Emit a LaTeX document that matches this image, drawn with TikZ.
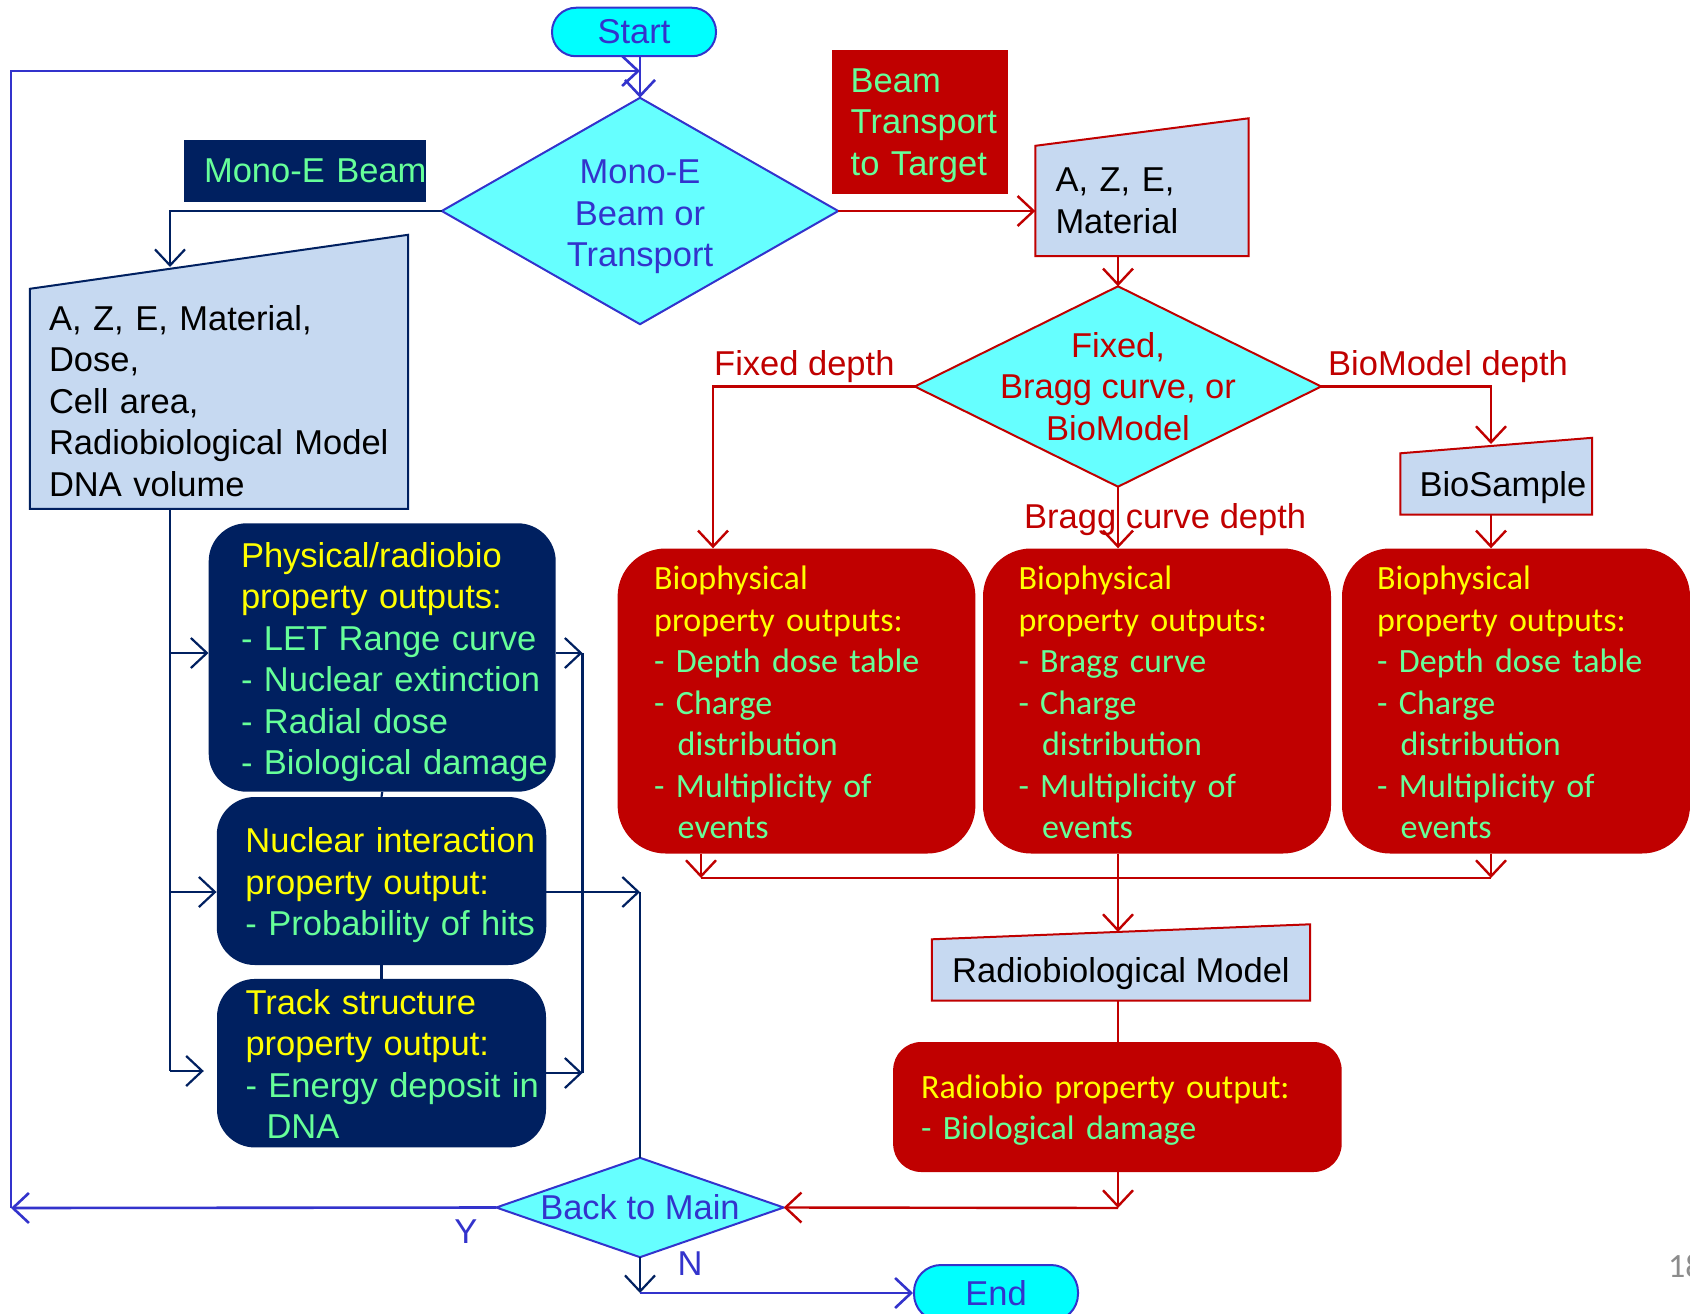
\documentclass[tikz,border=0pt]{standalone}
\usepackage{fontspec}
\setmainfont{Liberation Sans}
\newfontfamily\calfont{Carlito}
\usetikzlibrary{arrows.meta,backgrounds,calc}
\definecolor{cNavy}{HTML}{002060}
\definecolor{cBlue}{HTML}{3333CC}
\definecolor{cRed}{HTML}{C00000}
\definecolor{cCyan}{HTML}{00FFFF}
\definecolor{cLCyan}{HTML}{66FFFF}
\definecolor{cLBlue}{HTML}{C6D9F1}
\definecolor{cYel}{HTML}{FFFF00}
\definecolor{cGrn}{HTML}{66FF99}
\definecolor{cGray}{HTML}{8C8C8C}
\newcommand\mylines[2][5pt]{\raisebox{-#1}[\height][\depth]{\begin{tabular}{@{}l@{}}#2\end{tabular}}}
\newcommand\mylinesc[1]{\raisebox{-6pt}[\height][\depth]{\begin{tabular}{@{}c@{}}#1\end{tabular}}}
\newcommand\nodp[1]{\raisebox{0pt}[\height][0pt]{#1}}
\tikzset{
  txt/.style={font=\fontsize{34.5}{41.5}\selectfont, inner sep=0pt},
  caltxt/.style={font=\calfont\fontsize{34}{41.5}\selectfont, inner sep=0pt},
  arr/.style={-{Straight Barb[length=16pt,width=30pt]}},
  rl/.style={draw=cRed, line width=2.4pt},
  nl/.style={draw=cNavy, line width=2.2pt},
  bll/.style={draw=cBlue, line width=2.6pt},
  navybox/.style={txt, fill=cNavy, text=cGrn, align=left, rounded corners=38pt},
  redbox/.style={caltxt, fill=cRed, text=cGrn, align=left, rounded corners=48pt},
  term/.style={txt, text=cBlue, fill=cCyan, draw=cBlue, line width=2pt, minimum width=164pt},
}
\begin{document}
\begin{tikzpicture}[x=1pt,y=-1pt]
\useasboundingbox (0,0) rectangle (1690,1314);

% terminals
\node[term, minimum height=48.5pt, rounded corners=24pt] (start) at (634,32) {Start};
\node[term, minimum height=56pt, rounded corners=27pt] (end) at (996,1293) {End};

% decisions (text; shapes on background)
\node[txt, text=cBlue, minimum width=396pt, minimum height=226pt] (d1) at (640,211) {\mylinesc{Mono-E\\Beam or\\Transport}};
\node[txt, text=cRed, align=center, minimum width=406pt, minimum height=200pt] (d2) at (1118,386.5) {Fixed,\\Bragg curve, or\\BioModel};
\node[txt, text=cBlue, minimum width=287pt, minimum height=99pt] (btm) at (640,1207.5) {Back to Main};

% label boxes
\node[txt, fill=cNavy, text=cGrn, text width=201.5pt, inner xsep=20pt, minimum height=62pt, align=left] (mb) at (304.8,171) {\mbox{Mono-E Beam}};
\node[txt, fill=cRed, text=cGrn, text width=138pt, inner xsep=19pt, minimum height=144.5pt, align=left] (bt) at (919.7,121.8) {Beam\\Transport\\\nodp{to Target}};

% manual inputs (bodies; slanted tops on background)
\node[txt, text width=340pt, inner xsep=19pt, minimum height=219.6pt, align=left] (lp) at (219,398.8) {\mylines[6pt]{A, Z, E, Material,\\Dose,\\Cell area,\\Radiobiological Model\\DNA volume}};
\node[txt, text width=173pt, inner xsep=20pt, minimum height=110pt, align=left] (p2) at (1142,201) {A, Z, E,\\Material};
\node[txt, text width=153.5pt, inner xsep=19pt, minimum height=61pt, align=left] (bs) at (1496.25,484) {\nodp{BioSample}};
\node[txt, minimum width=378pt, minimum height=61pt] (rm) at (1121,970) {\nodp{Radiobiological Model}};

% navy output boxes
\node[navybox, text width=282.4pt, inner xsep=32.3pt, minimum height=268.4pt] (b1) at (382.2,657.5)
  {\mylines{\textcolor{cYel}{Physical/radiobio}\\\textcolor{cYel}{property outputs:}\\- LET Range curve\\- Nuclear extinction\\- Radial dose\\- Biological damage}};
\node[navybox, text width=272.1pt, inner xsep=28.7pt, minimum height=168pt] (b2) at (381.5,881)
  {\mylines{\textcolor{cYel}{Nuclear interaction}\\\textcolor{cYel}{property output:}\\- Probability of hits}};
\node[navybox, text width=272pt, inner xsep=28.5pt, minimum height=168.5pt] (b3) at (381.5,1063.2)
  {\mylines{\textcolor{cYel}{Track structure}\\\textcolor{cYel}{property output:}\\- Energy deposit in\\\hspace*{21pt}DNA}};

% red output boxes
\node[redbox, text width=284.6pt, inner xsep=36.6pt, minimum height=305pt] (rb1) at (796.5,701)
  {\mylines{\textcolor{cYel}{Biophysical}\\\textcolor{cYel}{property outputs:}\\- Depth dose table\\- Charge\\\hspace*{23.5pt}distribution\\- Multiplicity of\\\hspace*{23.5pt}events}};
\node[redbox, text width=277pt, inner xsep=35.5pt, minimum height=305pt] (rb2) at (1157,701)
  {\mylines{\textcolor{cYel}{Biophysical}\\\textcolor{cYel}{property outputs:}\\- Bragg curve\\- Charge\\\hspace*{23.5pt}distribution\\- Multiplicity of\\\hspace*{23.5pt}events}};
\node[redbox, text width=277.6pt, inner xsep=35.2pt, minimum height=305pt] (rb3) at (1516,701)
  {\mylines{\textcolor{cYel}{Biophysical}\\\textcolor{cYel}{property outputs:}\\- Depth dose table\\- Charge\\\hspace*{23.5pt}distribution\\- Multiplicity of\\\hspace*{23.5pt}events}};
\node[redbox, rounded corners=28pt, text width=392.5pt, inner xsep=28pt, minimum height=130pt] (rbo) at (1117.4,1107)
  {\textcolor{cYel}{Radiobio property output:}\\\nodp{- Biological damage}};

% labels
\node[txt, text=cRed, anchor=west] (lfix) at (714,367) {Fixed depth};
\node[txt, text=cRed, anchor=west] (lbio) at (1328,367) {BioModel depth};
\node[txt, text=cRed, anchor=west] (lbragg) at (1024,519.5) {Bragg curve depth};
\node[txt, text=cBlue] (ly) at (466,1232) {Y};
\node[txt, text=cBlue] (ln) at (690,1264) {N};
\node[caltxt, text=cGray, anchor=west] (pg) at (1668,1266) {18};

% background shapes
\begin{scope}[on background layer]
  \fill[white] (0,0) rectangle (1690,1314);
  \filldraw[fill=cLCyan, draw=cBlue, line width=2pt] (d1.north) -- (d1.east) -- (d1.south) -- (d1.west) -- cycle;
  \filldraw[fill=cLCyan, draw=cRed, line width=2pt] (d2.north) -- (d2.east) -- (d2.south) -- (d2.west) -- cycle;
  \filldraw[fill=cLCyan, draw=cBlue, line width=2pt] (btm.north) -- (btm.east) -- (btm.south) -- (btm.west) -- cycle;
  \filldraw[fill=cLBlue, draw=cNavy, line width=2pt] (lp.south west) -- (lp.south east) -- ($(lp.north east)+(0,-54)$) -- (lp.north west) -- cycle;
  \filldraw[fill=cLBlue, draw=cRed, line width=2pt] (p2.south west) -- (p2.south east) -- ($(p2.north east)+(0,-27.5)$) -- (p2.north west) -- cycle;
  \filldraw[fill=cLBlue, draw=cRed, line width=2pt] (bs.south west) -- (bs.south east) -- ($(bs.north east)+(0,-15.5)$) -- (bs.north west) -- cycle;
  \filldraw[fill=cLBlue, draw=cRed, line width=2pt] (rm.south west) -- (rm.south east) -- ($(rm.north east)+(0,-15)$) -- (rm.north west) -- cycle;
\end{scope}

% junction coordinates
\coordinate (jt) at (640,71);
\coordinate (lt) at (11,71);
\coordinate (lb) at (11,1208);
\coordinate (lpin) at (170,267);
\coordinate (t1) at (170,653);
\coordinate (t2) at (170,892);
\coordinate (t3) at (170,1071);
\coordinate (r1) at (582.5,653);
\coordinate (r3) at (582.5,1073);
\coordinate (r2) at (640,892);
\coordinate (nb) at (640,1293);
\coordinate (fx) at (713,386.5);
\coordinate (c3) at (1491,386.5);
\coordinate (bsin) at (1491,444);
\coordinate (k1) at (701,878);
\coordinate (k2) at (1118,878);
\coordinate (k3) at (1491,878);
\coordinate (rmin) at (1118,932);
\coordinate (kb) at (1118,1208);

% blue / navy connectors
\draw[bll, arr] (start.south -| d1.north) -- (d1.north);
\draw[bll, arr] (btm.west) -- (lb);
\draw[bll, arr] (lb) -- (lt) -- (jt);
\draw[nl, arr] (d1.west) -| (lpin);
\draw[nl] (lp.south -| t1) -- (t3);
\draw[nl, arr] (t1) -- (t1 -| b1.west);
\draw[nl, arr] (t2) -- (t2 -| b2.west);
\draw[nl, arr] (t3) -- ($(t3 -| b3.west)+(-13,0)$);
\draw[nl] (b1.south) -- (b2.north);
\draw[nl] (b2.south) -- (b3.north);
\draw[nl, arr] (b1.east |- r1) -- (r1);
\draw[nl, arr] (b3.east |- r3) -- (r3);
\draw[nl] (r1) -- (r3);
\draw[nl, arr] (b2.east |- r2) -- (r2);
\draw[nl] (r2) -- (btm.north);
\draw[nl, arr] (btm.south) -- (nb);
\draw[bll, arr] (nb) -- (end.west);

% red connectors
\draw[rl, arr] (d1.east) -- (d1.east -| p2.west);
\draw[rl, arr] (p2.south -| d2.north) -- (d2.north);
\draw[rl, arr] (d2.west) -- (fx) -- (fx |- rb1.north);
\draw[rl, arr] (d2.east) -- (c3) -- (bsin);
\draw[rl, arr] (d2.south) -- (d2.south |- rb2.north);
\draw[rl, arr] (c3 |- bs.south) -- (c3 |- rb3.north);
\draw[rl, arr] (rb1.south -| k1) -- (k1);
\draw[rl, arr] (rb3.south -| k3) -- (k3);
\draw[rl] (k1) -- (k3);
\draw[rl, arr] (rb2.south -| k2) -- (rmin);
\draw[rl] (rm.south -| k2) -- (rbo.north -| k2);
\draw[rl, arr] (rbo.south -| kb) -- (kb);
\draw[rl, arr] (kb) -- (btm.east);
\end{tikzpicture}
\end{document}
